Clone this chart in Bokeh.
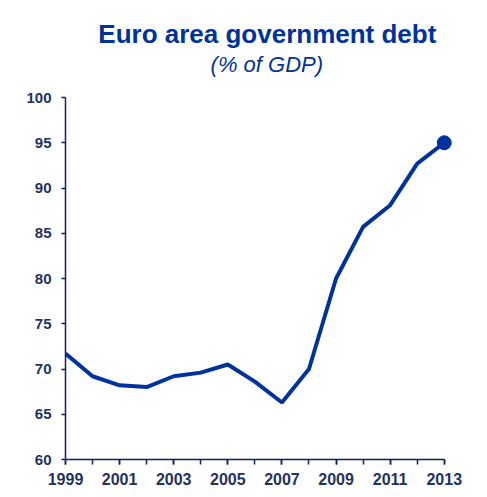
from bokeh.plotting import figure
from bokeh.models import Label, Range1d, FixedTicker
from bokeh.embed import file_html
from bokeh.resources import INLINE

years = [1999, 2000, 2001, 2002, 2003, 2004, 2005, 2006, 2007, 2008, 2009, 2010, 2011, 2012, 2013]
debt = [71.7, 69.2, 68.2, 68.0, 69.2, 69.6, 70.5, 68.6, 66.3, 70.0, 80.0, 85.7, 88.1, 92.7, 95.0]
y_ticks = [60, 65, 70, 75, 80, 85, 90, 95, 100]
x_ticks = [1999, 2001, 2003, 2005, 2007, 2009, 2011, 2013]
title_text = "Euro area government debt"
subtitle_text = "(% of GDP)"

LINE = "#003399"
AXIS = "#0d1f5c"
LABEL = "#1f3260"

p = figure(width=479, height=490, output_backend="svg", toolbar_location=None,
           x_range=Range1d(1999, 2013.6), y_range=Range1d(60, 110.72),
           min_border_left=65, min_border_right=19, min_border_bottom=31, min_border_top=0)
p.outline_line_color = None
p.grid.grid_line_color = None
p.background_fill_color = "white"
p.border_fill_color = "white"

p.add_layout(Label(x=2006.46, y=107.07, text=title_text, text_align="center",
                   text_baseline="alphabetic", text_font="Liberation Sans",
                   text_font_size="26px", text_font_style="bold", text_color=LINE))
p.add_layout(Label(x=2006.44, y=103.69, text=subtitle_text, text_align="center",
                   text_baseline="alphabetic", text_font="Liberation Sans",
                   text_font_size="22px", text_font_style="italic", text_color=LINE))

p.line(years, debt, line_color=LINE, line_width=4)
p.scatter([years[-1]], [debt[-1]], size=14, fill_color=LINE, line_color=LINE)

xa = p.xaxis[0]
xa.bounds = (1999, 2013)
xa.ticker = FixedTicker(ticks=x_ticks, minor_ticks=years)
xa.axis_line_color = AXIS
xa.axis_line_width = 1.5
xa.major_tick_line_color = AXIS
xa.minor_tick_line_color = AXIS
xa.major_tick_line_width = 1.5
xa.minor_tick_line_width = 1.5
xa.major_tick_out = 5
xa.major_tick_in = 0
xa.minor_tick_out = 5
xa.minor_tick_in = 0
xa.major_label_text_font = "Liberation Sans"
xa.major_label_text_font_size = "16px"
xa.major_label_text_font_style = "bold"
xa.major_label_text_color = LABEL
xa.major_label_standoff = 8

ya = p.yaxis[0]
ya.bounds = (60, 100)
ya.ticker = FixedTicker(ticks=y_ticks)
ya.axis_line_color = AXIS
ya.axis_line_width = 1.5
ya.major_tick_line_color = AXIS
ya.major_tick_line_width = 1.5
ya.major_tick_out = 4
ya.major_tick_in = 0
ya.minor_tick_line_color = None
ya.major_label_text_font = "Liberation Sans"
ya.major_label_text_font_size = "15px"
ya.major_label_text_font_style = "bold"
ya.major_label_text_color = LABEL
ya.major_label_standoff = 10

open("out.html", "w").write(file_html(p, INLINE))
